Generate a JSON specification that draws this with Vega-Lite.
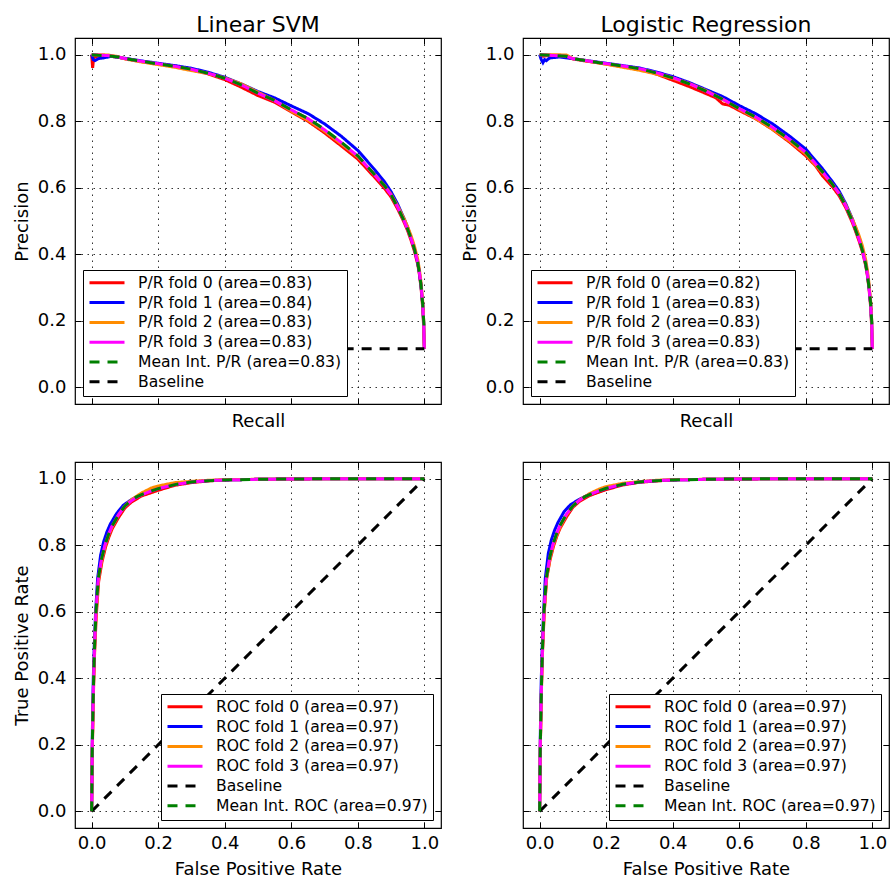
{
"$schema":"https://vega.github.io/schema/vega-lite/v6.json",
"background":"white",
"padding":{"left":12,"top":12,"right":0,"bottom":0},
"datasets":{
"prsvm":[
{"s":"f0","x":0,"y":1.0},{"s":"f0","x":0.003,"y":0.96},{"s":"f0","x":0.006,"y":0.99},{"s":"f0","x":0.02,"y":0.997},{"s":"f0","x":0.05,"y":0.996},{"s":"f0","x":0.08,"y":0.992},{"s":"f0","x":0.1,"y":0.988},{"s":"f0","x":0.15,"y":0.979},{"s":"f0","x":0.2,"y":0.972},{"s":"f0","x":0.25,"y":0.966},{"s":"f0","x":0.3,"y":0.955},{"s":"f0","x":0.35,"y":0.942},{"s":"f0","x":0.4,"y":0.925},{"s":"f0","x":0.45,"y":0.902},{"s":"f0","x":0.5,"y":0.877},{"s":"f0","x":0.55,"y":0.857},{"s":"f0","x":0.6,"y":0.828},{"s":"f0","x":0.65,"y":0.8},{"s":"f0","x":0.7,"y":0.765},{"s":"f0","x":0.75,"y":0.726},{"s":"f0","x":0.8,"y":0.686},{"s":"f0","x":0.85,"y":0.632},{"s":"f0","x":0.88,"y":0.598},{"s":"f0","x":0.9,"y":0.572},{"s":"f0","x":0.92,"y":0.536},{"s":"f0","x":0.94,"y":0.494},{"s":"f0","x":0.95,"y":0.47},{"s":"f0","x":0.96,"y":0.442},{"s":"f0","x":0.97,"y":0.41},{"s":"f0","x":0.98,"y":0.37},{"s":"f0","x":0.985,"y":0.34},{"s":"f0","x":0.99,"y":0.3},{"s":"f0","x":0.995,"y":0.24},{"s":"f0","x":0.998,"y":0.18},{"s":"f0","x":0.999,"y":0.14},{"s":"f0","x":1.0,"y":0.116},
{"s":"f1","x":0,"y":1.0},{"s":"f1","x":0.005,"y":0.985},{"s":"f1","x":0.01,"y":0.982},{"s":"f1","x":0.02,"y":0.988},{"s":"f1","x":0.04,"y":0.991},{"s":"f1","x":0.06,"y":0.995},{"s":"f1","x":0.1,"y":0.989},{"s":"f1","x":0.15,"y":0.981},{"s":"f1","x":0.2,"y":0.974},{"s":"f1","x":0.25,"y":0.967},{"s":"f1","x":0.3,"y":0.959},{"s":"f1","x":0.35,"y":0.947},{"s":"f1","x":0.4,"y":0.932},{"s":"f1","x":0.45,"y":0.912},{"s":"f1","x":0.5,"y":0.889},{"s":"f1","x":0.55,"y":0.87},{"s":"f1","x":0.6,"y":0.846},{"s":"f1","x":0.65,"y":0.823},{"s":"f1","x":0.7,"y":0.792},{"s":"f1","x":0.75,"y":0.755},{"s":"f1","x":0.8,"y":0.712},{"s":"f1","x":0.85,"y":0.655},{"s":"f1","x":0.88,"y":0.618},{"s":"f1","x":0.9,"y":0.588},{"s":"f1","x":0.92,"y":0.55},{"s":"f1","x":0.94,"y":0.505},{"s":"f1","x":0.95,"y":0.48},{"s":"f1","x":0.96,"y":0.45},{"s":"f1","x":0.97,"y":0.418},{"s":"f1","x":0.98,"y":0.375},{"s":"f1","x":0.985,"y":0.345},{"s":"f1","x":0.99,"y":0.305},{"s":"f1","x":0.995,"y":0.25},{"s":"f1","x":0.998,"y":0.19},{"s":"f1","x":0.999,"y":0.15},{"s":"f1","x":1.0,"y":0.116},
{"s":"f2","x":0,"y":1.0},{"s":"f2","x":0.02,"y":1.0},{"s":"f2","x":0.05,"y":0.999},{"s":"f2","x":0.08,"y":0.994},{"s":"f2","x":0.1,"y":0.987},{"s":"f2","x":0.15,"y":0.978},{"s":"f2","x":0.2,"y":0.97},{"s":"f2","x":0.25,"y":0.962},{"s":"f2","x":0.3,"y":0.952},{"s":"f2","x":0.35,"y":0.943},{"s":"f2","x":0.4,"y":0.93},{"s":"f2","x":0.45,"y":0.912},{"s":"f2","x":0.5,"y":0.887},{"s":"f2","x":0.55,"y":0.862},{"s":"f2","x":0.6,"y":0.83},{"s":"f2","x":0.65,"y":0.803},{"s":"f2","x":0.7,"y":0.77},{"s":"f2","x":0.75,"y":0.732},{"s":"f2","x":0.8,"y":0.693},{"s":"f2","x":0.85,"y":0.64},{"s":"f2","x":0.88,"y":0.607},{"s":"f2","x":0.9,"y":0.58},{"s":"f2","x":0.92,"y":0.545},{"s":"f2","x":0.94,"y":0.505},{"s":"f2","x":0.95,"y":0.482},{"s":"f2","x":0.96,"y":0.456},{"s":"f2","x":0.97,"y":0.425},{"s":"f2","x":0.98,"y":0.385},{"s":"f2","x":0.985,"y":0.355},{"s":"f2","x":0.99,"y":0.315},{"s":"f2","x":0.995,"y":0.26},{"s":"f2","x":0.998,"y":0.2},{"s":"f2","x":0.999,"y":0.15},{"s":"f2","x":1.0,"y":0.116},
{"s":"f3","x":0,"y":1.0},{"s":"f3","x":0.02,"y":0.999},{"s":"f3","x":0.05,"y":0.997},{"s":"f3","x":0.08,"y":0.993},{"s":"f3","x":0.1,"y":0.988},{"s":"f3","x":0.15,"y":0.98},{"s":"f3","x":0.2,"y":0.973},{"s":"f3","x":0.25,"y":0.965},{"s":"f3","x":0.3,"y":0.956},{"s":"f3","x":0.35,"y":0.944},{"s":"f3","x":0.4,"y":0.929},{"s":"f3","x":0.45,"y":0.909},{"s":"f3","x":0.5,"y":0.884},{"s":"f3","x":0.55,"y":0.861},{"s":"f3","x":0.6,"y":0.834},{"s":"f3","x":0.65,"y":0.808},{"s":"f3","x":0.7,"y":0.774},{"s":"f3","x":0.75,"y":0.736},{"s":"f3","x":0.8,"y":0.695},{"s":"f3","x":0.85,"y":0.639},{"s":"f3","x":0.88,"y":0.605},{"s":"f3","x":0.9,"y":0.578},{"s":"f3","x":0.92,"y":0.541},{"s":"f3","x":0.94,"y":0.498},{"s":"f3","x":0.95,"y":0.474},{"s":"f3","x":0.96,"y":0.447},{"s":"f3","x":0.97,"y":0.416},{"s":"f3","x":0.98,"y":0.376},{"s":"f3","x":0.985,"y":0.346},{"s":"f3","x":0.99,"y":0.308},{"s":"f3","x":0.995,"y":0.252},{"s":"f3","x":0.998,"y":0.195},{"s":"f3","x":0.999,"y":0.15},{"s":"f3","x":1.0,"y":0.116},
{"s":"b","x":0,"y":0.116},{"s":"b","x":1.0,"y":0.116},
{"s":"m","x":0,"y":1.0},{"s":"m","x":0.02,"y":0.998},{"s":"m","x":0.05,"y":0.996},{"s":"m","x":0.08,"y":0.993},{"s":"m","x":0.1,"y":0.988},{"s":"m","x":0.15,"y":0.98},{"s":"m","x":0.2,"y":0.972},{"s":"m","x":0.25,"y":0.965},{"s":"m","x":0.3,"y":0.956},{"s":"m","x":0.35,"y":0.944},{"s":"m","x":0.4,"y":0.929},{"s":"m","x":0.45,"y":0.909},{"s":"m","x":0.5,"y":0.884},{"s":"m","x":0.55,"y":0.862},{"s":"m","x":0.6,"y":0.834},{"s":"m","x":0.65,"y":0.808},{"s":"m","x":0.7,"y":0.775},{"s":"m","x":0.75,"y":0.737},{"s":"m","x":0.8,"y":0.696},{"s":"m","x":0.85,"y":0.64},{"s":"m","x":0.88,"y":0.606},{"s":"m","x":0.9,"y":0.579},{"s":"m","x":0.92,"y":0.54},{"s":"m","x":0.94,"y":0.499},{"s":"m","x":0.95,"y":0.475},{"s":"m","x":0.96,"y":0.448},{"s":"m","x":0.97,"y":0.416},{"s":"m","x":0.98,"y":0.376},{"s":"m","x":0.985,"y":0.345},{"s":"m","x":0.99,"y":0.307},{"s":"m","x":0.995,"y":0.25},{"s":"m","x":0.998,"y":0.2},{"s":"m","x":1.0,"y":0.17}
],
"prlr":[
{"s":"f0","x":0,"y":1.0},{"s":"f0","x":0.01,"y":0.995},{"s":"f0","x":0.03,"y":0.998},{"s":"f0","x":0.08,"y":0.994},{"s":"f0","x":0.1,"y":0.987},{"s":"f0","x":0.15,"y":0.979},{"s":"f0","x":0.2,"y":0.972},{"s":"f0","x":0.25,"y":0.964},{"s":"f0","x":0.3,"y":0.956},{"s":"f0","x":0.35,"y":0.942},{"s":"f0","x":0.4,"y":0.923},{"s":"f0","x":0.45,"y":0.904},{"s":"f0","x":0.5,"y":0.883},{"s":"f0","x":0.53,"y":0.87},{"s":"f0","x":0.55,"y":0.852},{"s":"f0","x":0.57,"y":0.848},{"s":"f0","x":0.6,"y":0.832},{"s":"f0","x":0.65,"y":0.807},{"s":"f0","x":0.7,"y":0.775},{"s":"f0","x":0.75,"y":0.738},{"s":"f0","x":0.8,"y":0.696},{"s":"f0","x":0.83,"y":0.665},{"s":"f0","x":0.85,"y":0.636},{"s":"f0","x":0.88,"y":0.603},{"s":"f0","x":0.9,"y":0.576},{"s":"f0","x":0.92,"y":0.54},{"s":"f0","x":0.94,"y":0.495},{"s":"f0","x":0.95,"y":0.468},{"s":"f0","x":0.96,"y":0.44},{"s":"f0","x":0.97,"y":0.408},{"s":"f0","x":0.98,"y":0.366},{"s":"f0","x":0.985,"y":0.336},{"s":"f0","x":0.99,"y":0.296},{"s":"f0","x":0.995,"y":0.24},{"s":"f0","x":0.998,"y":0.18},{"s":"f0","x":0.999,"y":0.14},{"s":"f0","x":1.0,"y":0.116},
{"s":"f1","x":0,"y":1.0},{"s":"f1","x":0.005,"y":0.985},{"s":"f1","x":0.01,"y":0.976},{"s":"f1","x":0.015,"y":0.985},{"s":"f1","x":0.02,"y":0.982},{"s":"f1","x":0.03,"y":0.99},{"s":"f1","x":0.06,"y":0.993},{"s":"f1","x":0.1,"y":0.988},{"s":"f1","x":0.15,"y":0.981},{"s":"f1","x":0.2,"y":0.974},{"s":"f1","x":0.25,"y":0.967},{"s":"f1","x":0.3,"y":0.96},{"s":"f1","x":0.35,"y":0.948},{"s":"f1","x":0.4,"y":0.934},{"s":"f1","x":0.45,"y":0.916},{"s":"f1","x":0.5,"y":0.895},{"s":"f1","x":0.55,"y":0.874},{"s":"f1","x":0.6,"y":0.847},{"s":"f1","x":0.65,"y":0.822},{"s":"f1","x":0.7,"y":0.792},{"s":"f1","x":0.75,"y":0.756},{"s":"f1","x":0.8,"y":0.716},{"s":"f1","x":0.85,"y":0.657},{"s":"f1","x":0.88,"y":0.618},{"s":"f1","x":0.9,"y":0.59},{"s":"f1","x":0.92,"y":0.552},{"s":"f1","x":0.94,"y":0.506},{"s":"f1","x":0.95,"y":0.478},{"s":"f1","x":0.96,"y":0.45},{"s":"f1","x":0.97,"y":0.417},{"s":"f1","x":0.98,"y":0.374},{"s":"f1","x":0.985,"y":0.343},{"s":"f1","x":0.99,"y":0.303},{"s":"f1","x":0.995,"y":0.248},{"s":"f1","x":0.998,"y":0.19},{"s":"f1","x":0.999,"y":0.15},{"s":"f1","x":1.0,"y":0.116},
{"s":"f2","x":0,"y":1.0},{"s":"f2","x":0.03,"y":1.0},{"s":"f2","x":0.08,"y":0.999},{"s":"f2","x":0.1,"y":0.988},{"s":"f2","x":0.15,"y":0.98},{"s":"f2","x":0.2,"y":0.971},{"s":"f2","x":0.25,"y":0.962},{"s":"f2","x":0.3,"y":0.953},{"s":"f2","x":0.35,"y":0.942},{"s":"f2","x":0.4,"y":0.929},{"s":"f2","x":0.45,"y":0.913},{"s":"f2","x":0.5,"y":0.892},{"s":"f2","x":0.55,"y":0.866},{"s":"f2","x":0.6,"y":0.836},{"s":"f2","x":0.65,"y":0.808},{"s":"f2","x":0.7,"y":0.776},{"s":"f2","x":0.75,"y":0.741},{"s":"f2","x":0.8,"y":0.701},{"s":"f2","x":0.85,"y":0.645},{"s":"f2","x":0.88,"y":0.61},{"s":"f2","x":0.9,"y":0.583},{"s":"f2","x":0.92,"y":0.548},{"s":"f2","x":0.94,"y":0.505},{"s":"f2","x":0.95,"y":0.482},{"s":"f2","x":0.96,"y":0.456},{"s":"f2","x":0.97,"y":0.425},{"s":"f2","x":0.98,"y":0.383},{"s":"f2","x":0.985,"y":0.352},{"s":"f2","x":0.99,"y":0.312},{"s":"f2","x":0.995,"y":0.258},{"s":"f2","x":0.998,"y":0.2},{"s":"f2","x":0.999,"y":0.15},{"s":"f2","x":1.0,"y":0.116},
{"s":"f3","x":0,"y":1.0},{"s":"f3","x":0.03,"y":0.998},{"s":"f3","x":0.08,"y":0.995},{"s":"f3","x":0.1,"y":0.988},{"s":"f3","x":0.15,"y":0.98},{"s":"f3","x":0.2,"y":0.973},{"s":"f3","x":0.25,"y":0.966},{"s":"f3","x":0.3,"y":0.958},{"s":"f3","x":0.35,"y":0.946},{"s":"f3","x":0.4,"y":0.931},{"s":"f3","x":0.45,"y":0.913},{"s":"f3","x":0.5,"y":0.89},{"s":"f3","x":0.55,"y":0.866},{"s":"f3","x":0.6,"y":0.838},{"s":"f3","x":0.65,"y":0.812},{"s":"f3","x":0.7,"y":0.781},{"s":"f3","x":0.75,"y":0.746},{"s":"f3","x":0.8,"y":0.706},{"s":"f3","x":0.85,"y":0.648},{"s":"f3","x":0.88,"y":0.61},{"s":"f3","x":0.9,"y":0.582},{"s":"f3","x":0.92,"y":0.545},{"s":"f3","x":0.94,"y":0.5},{"s":"f3","x":0.95,"y":0.472},{"s":"f3","x":0.96,"y":0.445},{"s":"f3","x":0.97,"y":0.412},{"s":"f3","x":0.98,"y":0.37},{"s":"f3","x":0.985,"y":0.34},{"s":"f3","x":0.99,"y":0.3},{"s":"f3","x":0.995,"y":0.248},{"s":"f3","x":0.998,"y":0.195},{"s":"f3","x":0.999,"y":0.15},{"s":"f3","x":1.0,"y":0.116},
{"s":"b","x":0,"y":0.116},{"s":"b","x":1.0,"y":0.116},
{"s":"m","x":0,"y":1.0},{"s":"m","x":0.03,"y":0.998},{"s":"m","x":0.08,"y":0.995},{"s":"m","x":0.1,"y":0.988},{"s":"m","x":0.15,"y":0.98},{"s":"m","x":0.2,"y":0.973},{"s":"m","x":0.25,"y":0.966},{"s":"m","x":0.3,"y":0.958},{"s":"m","x":0.35,"y":0.945},{"s":"m","x":0.4,"y":0.93},{"s":"m","x":0.45,"y":0.912},{"s":"m","x":0.5,"y":0.89},{"s":"m","x":0.55,"y":0.866},{"s":"m","x":0.6,"y":0.838},{"s":"m","x":0.65,"y":0.812},{"s":"m","x":0.7,"y":0.781},{"s":"m","x":0.75,"y":0.746},{"s":"m","x":0.8,"y":0.706},{"s":"m","x":0.85,"y":0.648},{"s":"m","x":0.88,"y":0.61},{"s":"m","x":0.9,"y":0.582},{"s":"m","x":0.92,"y":0.545},{"s":"m","x":0.94,"y":0.5},{"s":"m","x":0.95,"y":0.472},{"s":"m","x":0.96,"y":0.445},{"s":"m","x":0.97,"y":0.412},{"s":"m","x":0.98,"y":0.37},{"s":"m","x":0.985,"y":0.34},{"s":"m","x":0.99,"y":0.3},{"s":"m","x":0.995,"y":0.25},{"s":"m","x":0.998,"y":0.2},{"s":"m","x":1.0,"y":0.17}
],
"rocsvm":[
{"s":"f0","x":0,"y":0},{"s":"f0","x":0.001,"y":0.08},{"s":"f0","x":0.002,"y":0.18},{"s":"f0","x":0.004,"y":0.28},{"s":"f0","x":0.006,"y":0.38},{"s":"f0","x":0.009,"y":0.48},{"s":"f0","x":0.014,"y":0.59},{"s":"f0","x":0.021,"y":0.69},{"s":"f0","x":0.031,"y":0.75},{"s":"f0","x":0.042,"y":0.795},{"s":"f0","x":0.052,"y":0.825},{"s":"f0","x":0.062,"y":0.85},{"s":"f0","x":0.082,"y":0.885},{"s":"f0","x":0.1,"y":0.912},{"s":"f0","x":0.12,"y":0.93},{"s":"f0","x":0.15,"y":0.948},{"s":"f0","x":0.18,"y":0.958},{"s":"f0","x":0.2,"y":0.965},{"s":"f0","x":0.25,"y":0.98},{"s":"f0","x":0.3,"y":0.988},{"s":"f0","x":0.35,"y":0.993},{"s":"f0","x":0.4,"y":0.996},{"s":"f0","x":0.5,"y":0.998},{"s":"f0","x":0.6,"y":0.999},{"s":"f0","x":0.8,"y":1.0},{"s":"f0","x":1.0,"y":1.0},
{"s":"f1","x":0,"y":0},{"s":"f1","x":0.001,"y":0.12},{"s":"f1","x":0.002,"y":0.22},{"s":"f1","x":0.003,"y":0.3},{"s":"f1","x":0.005,"y":0.4},{"s":"f1","x":0.008,"y":0.5},{"s":"f1","x":0.012,"y":0.6},{"s":"f1","x":0.018,"y":0.7},{"s":"f1","x":0.027,"y":0.77},{"s":"f1","x":0.036,"y":0.81},{"s":"f1","x":0.046,"y":0.84},{"s":"f1","x":0.056,"y":0.863},{"s":"f1","x":0.075,"y":0.895},{"s":"f1","x":0.095,"y":0.92},{"s":"f1","x":0.12,"y":0.937},{"s":"f1","x":0.15,"y":0.953},{"s":"f1","x":0.18,"y":0.964},{"s":"f1","x":0.2,"y":0.97},{"s":"f1","x":0.25,"y":0.983},{"s":"f1","x":0.3,"y":0.99},{"s":"f1","x":0.35,"y":0.994},{"s":"f1","x":0.4,"y":0.996},{"s":"f1","x":0.5,"y":0.998},{"s":"f1","x":0.6,"y":0.999},{"s":"f1","x":0.8,"y":1.0},{"s":"f1","x":1.0,"y":1.0},
{"s":"f2","x":0,"y":0},{"s":"f2","x":0.001,"y":0.1},{"s":"f2","x":0.002,"y":0.19},{"s":"f2","x":0.004,"y":0.29},{"s":"f2","x":0.006,"y":0.39},{"s":"f2","x":0.009,"y":0.49},{"s":"f2","x":0.013,"y":0.59},{"s":"f2","x":0.021,"y":0.7},{"s":"f2","x":0.031,"y":0.76},{"s":"f2","x":0.041,"y":0.8},{"s":"f2","x":0.051,"y":0.83},{"s":"f2","x":0.062,"y":0.856},{"s":"f2","x":0.08,"y":0.89},{"s":"f2","x":0.1,"y":0.918},{"s":"f2","x":0.12,"y":0.937},{"s":"f2","x":0.15,"y":0.957},{"s":"f2","x":0.18,"y":0.972},{"s":"f2","x":0.2,"y":0.978},{"s":"f2","x":0.25,"y":0.988},{"s":"f2","x":0.3,"y":0.992},{"s":"f2","x":0.35,"y":0.995},{"s":"f2","x":0.4,"y":0.997},{"s":"f2","x":0.5,"y":0.998},{"s":"f2","x":0.6,"y":0.999},{"s":"f2","x":0.8,"y":1.0},{"s":"f2","x":1.0,"y":1.0},
{"s":"f3","x":0,"y":0},{"s":"f3","x":0.001,"y":0.1},{"s":"f3","x":0.002,"y":0.2},{"s":"f3","x":0.004,"y":0.3},{"s":"f3","x":0.006,"y":0.4},{"s":"f3","x":0.009,"y":0.5},{"s":"f3","x":0.013,"y":0.6},{"s":"f3","x":0.02,"y":0.7},{"s":"f3","x":0.03,"y":0.76},{"s":"f3","x":0.04,"y":0.8},{"s":"f3","x":0.05,"y":0.83},{"s":"f3","x":0.06,"y":0.855},{"s":"f3","x":0.08,"y":0.89},{"s":"f3","x":0.1,"y":0.917},{"s":"f3","x":0.12,"y":0.934},{"s":"f3","x":0.135,"y":0.944},{"s":"f3","x":0.15,"y":0.951},{"s":"f3","x":0.18,"y":0.963},{"s":"f3","x":0.2,"y":0.97},{"s":"f3","x":0.25,"y":0.982},{"s":"f3","x":0.3,"y":0.99},{"s":"f3","x":0.35,"y":0.994},{"s":"f3","x":0.4,"y":0.996},{"s":"f3","x":0.5,"y":0.998},{"s":"f3","x":0.6,"y":0.999},{"s":"f3","x":0.8,"y":1.0},{"s":"f3","x":1.0,"y":1.0},
{"s":"b","x":0,"y":0},{"s":"b","x":1.0,"y":1.0},
{"s":"m","x":0,"y":0},{"s":"m","x":0.001,"y":0.1},{"s":"m","x":0.002,"y":0.2},{"s":"m","x":0.004,"y":0.3},{"s":"m","x":0.006,"y":0.4},{"s":"m","x":0.009,"y":0.5},{"s":"m","x":0.013,"y":0.6},{"s":"m","x":0.02,"y":0.7},{"s":"m","x":0.03,"y":0.76},{"s":"m","x":0.04,"y":0.8},{"s":"m","x":0.05,"y":0.83},{"s":"m","x":0.06,"y":0.855},{"s":"m","x":0.08,"y":0.89},{"s":"m","x":0.1,"y":0.918},{"s":"m","x":0.12,"y":0.935},{"s":"m","x":0.135,"y":0.945},{"s":"m","x":0.15,"y":0.952},{"s":"m","x":0.18,"y":0.963},{"s":"m","x":0.2,"y":0.97},{"s":"m","x":0.25,"y":0.982},{"s":"m","x":0.3,"y":0.99},{"s":"m","x":0.35,"y":0.994},{"s":"m","x":0.4,"y":0.996},{"s":"m","x":0.5,"y":0.998},{"s":"m","x":0.6,"y":0.999},{"s":"m","x":0.8,"y":1.0},{"s":"m","x":1.0,"y":1.0}
],
"roclr":[
{"s":"f0","x":0,"y":0},{"s":"f0","x":0.001,"y":0.09},{"s":"f0","x":0.002,"y":0.19},{"s":"f0","x":0.004,"y":0.29},{"s":"f0","x":0.006,"y":0.39},{"s":"f0","x":0.009,"y":0.49},{"s":"f0","x":0.014,"y":0.6},{"s":"f0","x":0.021,"y":0.7},{"s":"f0","x":0.031,"y":0.755},{"s":"f0","x":0.042,"y":0.798},{"s":"f0","x":0.052,"y":0.828},{"s":"f0","x":0.062,"y":0.852},{"s":"f0","x":0.082,"y":0.887},{"s":"f0","x":0.1,"y":0.914},{"s":"f0","x":0.12,"y":0.932},{"s":"f0","x":0.15,"y":0.949},{"s":"f0","x":0.18,"y":0.96},{"s":"f0","x":0.2,"y":0.967},{"s":"f0","x":0.25,"y":0.981},{"s":"f0","x":0.3,"y":0.989},{"s":"f0","x":0.35,"y":0.993},{"s":"f0","x":0.4,"y":0.996},{"s":"f0","x":0.5,"y":0.998},{"s":"f0","x":0.6,"y":0.999},{"s":"f0","x":0.8,"y":1.0},{"s":"f0","x":1.0,"y":1.0},
{"s":"f1","x":0,"y":0},{"s":"f1","x":0.001,"y":0.12},{"s":"f1","x":0.002,"y":0.22},{"s":"f1","x":0.003,"y":0.3},{"s":"f1","x":0.005,"y":0.4},{"s":"f1","x":0.008,"y":0.5},{"s":"f1","x":0.012,"y":0.6},{"s":"f1","x":0.017,"y":0.7},{"s":"f1","x":0.026,"y":0.775},{"s":"f1","x":0.035,"y":0.815},{"s":"f1","x":0.045,"y":0.845},{"s":"f1","x":0.055,"y":0.868},{"s":"f1","x":0.073,"y":0.9},{"s":"f1","x":0.093,"y":0.922},{"s":"f1","x":0.12,"y":0.938},{"s":"f1","x":0.15,"y":0.953},{"s":"f1","x":0.18,"y":0.964},{"s":"f1","x":0.2,"y":0.97},{"s":"f1","x":0.25,"y":0.983},{"s":"f1","x":0.3,"y":0.99},{"s":"f1","x":0.35,"y":0.994},{"s":"f1","x":0.4,"y":0.996},{"s":"f1","x":0.5,"y":0.998},{"s":"f1","x":0.6,"y":0.999},{"s":"f1","x":0.8,"y":1.0},{"s":"f1","x":1.0,"y":1.0},
{"s":"f2","x":0,"y":0},{"s":"f2","x":0.001,"y":0.1},{"s":"f2","x":0.002,"y":0.19},{"s":"f2","x":0.004,"y":0.29},{"s":"f2","x":0.006,"y":0.39},{"s":"f2","x":0.009,"y":0.49},{"s":"f2","x":0.013,"y":0.59},{"s":"f2","x":0.021,"y":0.7},{"s":"f2","x":0.031,"y":0.76},{"s":"f2","x":0.041,"y":0.8},{"s":"f2","x":0.051,"y":0.83},{"s":"f2","x":0.062,"y":0.856},{"s":"f2","x":0.08,"y":0.89},{"s":"f2","x":0.1,"y":0.918},{"s":"f2","x":0.12,"y":0.936},{"s":"f2","x":0.15,"y":0.955},{"s":"f2","x":0.18,"y":0.969},{"s":"f2","x":0.2,"y":0.976},{"s":"f2","x":0.25,"y":0.986},{"s":"f2","x":0.3,"y":0.991},{"s":"f2","x":0.35,"y":0.995},{"s":"f2","x":0.4,"y":0.997},{"s":"f2","x":0.5,"y":0.998},{"s":"f2","x":0.6,"y":0.999},{"s":"f2","x":0.8,"y":1.0},{"s":"f2","x":1.0,"y":1.0},
{"s":"f3","x":0,"y":0},{"s":"f3","x":0.001,"y":0.1},{"s":"f3","x":0.002,"y":0.2},{"s":"f3","x":0.004,"y":0.3},{"s":"f3","x":0.006,"y":0.4},{"s":"f3","x":0.009,"y":0.5},{"s":"f3","x":0.013,"y":0.6},{"s":"f3","x":0.02,"y":0.7},{"s":"f3","x":0.03,"y":0.762},{"s":"f3","x":0.04,"y":0.802},{"s":"f3","x":0.05,"y":0.832},{"s":"f3","x":0.06,"y":0.857},{"s":"f3","x":0.08,"y":0.892},{"s":"f3","x":0.1,"y":0.918},{"s":"f3","x":0.12,"y":0.935},{"s":"f3","x":0.135,"y":0.945},{"s":"f3","x":0.15,"y":0.952},{"s":"f3","x":0.18,"y":0.964},{"s":"f3","x":0.2,"y":0.971},{"s":"f3","x":0.25,"y":0.983},{"s":"f3","x":0.3,"y":0.99},{"s":"f3","x":0.35,"y":0.994},{"s":"f3","x":0.4,"y":0.996},{"s":"f3","x":0.5,"y":0.998},{"s":"f3","x":0.6,"y":0.999},{"s":"f3","x":0.8,"y":1.0},{"s":"f3","x":1.0,"y":1.0},
{"s":"b","x":0,"y":0},{"s":"b","x":1.0,"y":1.0},
{"s":"m","x":0,"y":0},{"s":"m","x":0.001,"y":0.1},{"s":"m","x":0.002,"y":0.2},{"s":"m","x":0.004,"y":0.3},{"s":"m","x":0.006,"y":0.4},{"s":"m","x":0.009,"y":0.5},{"s":"m","x":0.013,"y":0.6},{"s":"m","x":0.02,"y":0.7},{"s":"m","x":0.03,"y":0.762},{"s":"m","x":0.04,"y":0.802},{"s":"m","x":0.05,"y":0.832},{"s":"m","x":0.06,"y":0.857},{"s":"m","x":0.08,"y":0.892},{"s":"m","x":0.1,"y":0.918},{"s":"m","x":0.12,"y":0.935},{"s":"m","x":0.135,"y":0.945},{"s":"m","x":0.15,"y":0.952},{"s":"m","x":0.18,"y":0.964},{"s":"m","x":0.2,"y":0.971},{"s":"m","x":0.25,"y":0.983},{"s":"m","x":0.3,"y":0.99},{"s":"m","x":0.35,"y":0.994},{"s":"m","x":0.4,"y":0.996},{"s":"m","x":0.5,"y":0.998},{"s":"m","x":0.6,"y":0.999},{"s":"m","x":0.8,"y":1.0},{"s":"m","x":1.0,"y":1.0}
]
},
"columns":2,
"spacing":{"row":58,"column":82},
"bounds":"flush",
"concat":[
{
"width":366,"height":366,
"title":"Linear SVM",
"data":{"name":"prsvm"},
"layer":[
{"mark":{"type":"line","strokeWidth":3,"strokeCap":"butt"},
"encoding":{
"x":{"field":"x","type":"quantitative","scale":{"domain":[-0.05,1.05],"nice":false,"zero":false},"axis":{"orient":"bottom","labels":false,"title":"Recall","values":[0,0.2,0.4,0.6,0.8,1]}},
"y":{"field":"y","type":"quantitative","scale":{"domain":[-0.05,1.05],"nice":false,"zero":false},"axis":{"orient":"left","title":"Precision","values":[0,0.2,0.4,0.6,0.8,1]}},
"color":{"field":"s","type":"nominal","scale":{"domain":["f0","f1","f2","f3","m","b"],"range":["#ff0000","#0000ff","#ff8c00","#ff00ff","#008000","#000000"]},"legend":{"orient":"bottom-left","title":null,"labelExpr":"datum.value=='f0'?'P/R fold 0 (area=0.83)':datum.value=='f1'?'P/R fold 1 (area=0.84)':datum.value=='f2'?'P/R fold 2 (area=0.83)':datum.value=='f3'?'P/R fold 3 (area=0.83)':datum.value=='m'?'Mean Int. P/R (area=0.83)':'Baseline'"}},
"strokeDash":{"field":"s","type":"nominal","scale":{"domain":["f0","f1","f2","f3","m","b"],"range":[[1,0],[1,0],[1,0],[1,0],[10,8],[10,8]]},"legend":{"orient":"bottom-left","title":null,"labelExpr":"datum.value=='f0'?'P/R fold 0 (area=0.83)':datum.value=='f1'?'P/R fold 1 (area=0.84)':datum.value=='f2'?'P/R fold 2 (area=0.83)':datum.value=='f3'?'P/R fold 3 (area=0.83)':datum.value=='m'?'Mean Int. P/R (area=0.83)':'Baseline'"}}
}},
{"mark":{"type":"line","opacity":0},
"encoding":{
"x":{"field":"x","type":"quantitative","scale":{"domain":[-0.05,1.05],"nice":false,"zero":false},"axis":{"orient":"top","labels":false,"title":null,"grid":false,"values":[0,0.2,0.4,0.6,0.8,1]}},
"y":{"field":"y","type":"quantitative","scale":{"domain":[-0.05,1.05],"nice":false,"zero":false},"axis":{"orient":"right","labels":false,"title":null,"grid":false,"values":[0,0.2,0.4,0.6,0.8,1]}}
}}
],
"resolve":{"axis":{"x":"independent","y":"independent"}}
},
{
"width":366,"height":366,
"title":"Logistic Regression",
"data":{"name":"prlr"},
"layer":[
{"mark":{"type":"line","strokeWidth":3,"strokeCap":"butt"},
"encoding":{
"x":{"field":"x","type":"quantitative","scale":{"domain":[-0.05,1.05],"nice":false,"zero":false},"axis":{"orient":"bottom","labels":false,"title":"Recall","values":[0,0.2,0.4,0.6,0.8,1]}},
"y":{"field":"y","type":"quantitative","scale":{"domain":[-0.05,1.05],"nice":false,"zero":false},"axis":{"orient":"left","title":"Precision","values":[0,0.2,0.4,0.6,0.8,1]}},
"color":{"field":"s","type":"nominal","scale":{"domain":["f0","f1","f2","f3","m","b"],"range":["#ff0000","#0000ff","#ff8c00","#ff00ff","#008000","#000000"]},"legend":{"orient":"bottom-left","title":null,"labelExpr":"datum.value=='f0'?'P/R fold 0 (area=0.82)':datum.value=='f1'?'P/R fold 1 (area=0.83)':datum.value=='f2'?'P/R fold 2 (area=0.83)':datum.value=='f3'?'P/R fold 3 (area=0.83)':datum.value=='m'?'Mean Int. P/R (area=0.83)':'Baseline'"}},
"strokeDash":{"field":"s","type":"nominal","scale":{"domain":["f0","f1","f2","f3","m","b"],"range":[[1,0],[1,0],[1,0],[1,0],[10,8],[10,8]]},"legend":{"orient":"bottom-left","title":null,"labelExpr":"datum.value=='f0'?'P/R fold 0 (area=0.82)':datum.value=='f1'?'P/R fold 1 (area=0.83)':datum.value=='f2'?'P/R fold 2 (area=0.83)':datum.value=='f3'?'P/R fold 3 (area=0.83)':datum.value=='m'?'Mean Int. P/R (area=0.83)':'Baseline'"}}
}},
{"mark":{"type":"line","opacity":0},
"encoding":{
"x":{"field":"x","type":"quantitative","scale":{"domain":[-0.05,1.05],"nice":false,"zero":false},"axis":{"orient":"top","labels":false,"title":null,"grid":false,"values":[0,0.2,0.4,0.6,0.8,1]}},
"y":{"field":"y","type":"quantitative","scale":{"domain":[-0.05,1.05],"nice":false,"zero":false},"axis":{"orient":"right","labels":false,"title":null,"grid":false,"values":[0,0.2,0.4,0.6,0.8,1]}}
}}
],
"resolve":{"axis":{"x":"independent","y":"independent"}}
},
{
"width":366,"height":366,
"data":{"name":"rocsvm"},
"layer":[
{"mark":{"type":"line","strokeWidth":3,"strokeCap":"butt"},
"encoding":{
"x":{"field":"x","type":"quantitative","scale":{"domain":[-0.05,1.05],"nice":false,"zero":false},"axis":{"orient":"bottom","title":"False Positive Rate","values":[0,0.2,0.4,0.6,0.8,1]}},
"y":{"field":"y","type":"quantitative","scale":{"domain":[-0.05,1.05],"nice":false,"zero":false},"axis":{"orient":"left","title":"True Positive Rate","values":[0,0.2,0.4,0.6,0.8,1]}},
"color":{"field":"s","type":"nominal","scale":{"domain":["f0","f1","f2","f3","b","m"],"range":["#ff0000","#0000ff","#ff8c00","#ff00ff","#000000","#008000"]},"legend":{"orient":"bottom-right","title":null,"labelExpr":"datum.value=='f0'?'ROC fold 0 (area=0.97)':datum.value=='f1'?'ROC fold 1 (area=0.97)':datum.value=='f2'?'ROC fold 2 (area=0.97)':datum.value=='f3'?'ROC fold 3 (area=0.97)':datum.value=='m'?'Mean Int. ROC (area=0.97)':'Baseline'"}},
"strokeDash":{"field":"s","type":"nominal","scale":{"domain":["f0","f1","f2","f3","b","m"],"range":[[1,0],[1,0],[1,0],[1,0],[10,8],[10,8]]},"legend":{"orient":"bottom-right","title":null,"labelExpr":"datum.value=='f0'?'ROC fold 0 (area=0.97)':datum.value=='f1'?'ROC fold 1 (area=0.97)':datum.value=='f2'?'ROC fold 2 (area=0.97)':datum.value=='f3'?'ROC fold 3 (area=0.97)':datum.value=='m'?'Mean Int. ROC (area=0.97)':'Baseline'"}}
}},
{"mark":{"type":"line","opacity":0},
"encoding":{
"x":{"field":"x","type":"quantitative","scale":{"domain":[-0.05,1.05],"nice":false,"zero":false},"axis":{"orient":"top","labels":false,"title":null,"grid":false,"values":[0,0.2,0.4,0.6,0.8,1]}},
"y":{"field":"y","type":"quantitative","scale":{"domain":[-0.05,1.05],"nice":false,"zero":false},"axis":{"orient":"right","labels":false,"title":null,"grid":false,"values":[0,0.2,0.4,0.6,0.8,1]}}
}}
],
"resolve":{"axis":{"x":"independent","y":"independent"}}
},
{
"width":366,"height":366,
"data":{"name":"roclr"},
"layer":[
{"mark":{"type":"line","strokeWidth":3,"strokeCap":"butt"},
"encoding":{
"x":{"field":"x","type":"quantitative","scale":{"domain":[-0.05,1.05],"nice":false,"zero":false},"axis":{"orient":"bottom","title":"False Positive Rate","values":[0,0.2,0.4,0.6,0.8,1]}},
"y":{"field":"y","type":"quantitative","scale":{"domain":[-0.05,1.05],"nice":false,"zero":false},"axis":{"orient":"left","labels":false,"title":null,"values":[0,0.2,0.4,0.6,0.8,1]}},
"color":{"field":"s","type":"nominal","scale":{"domain":["f0","f1","f2","f3","b","m"],"range":["#ff0000","#0000ff","#ff8c00","#ff00ff","#000000","#008000"]},"legend":{"orient":"bottom-right","title":null,"labelExpr":"datum.value=='f0'?'ROC fold 0 (area=0.97)':datum.value=='f1'?'ROC fold 1 (area=0.97)':datum.value=='f2'?'ROC fold 2 (area=0.97)':datum.value=='f3'?'ROC fold 3 (area=0.97)':datum.value=='m'?'Mean Int. ROC (area=0.97)':'Baseline'"}},
"strokeDash":{"field":"s","type":"nominal","scale":{"domain":["f0","f1","f2","f3","b","m"],"range":[[1,0],[1,0],[1,0],[1,0],[10,8],[10,8]]},"legend":{"orient":"bottom-right","title":null,"labelExpr":"datum.value=='f0'?'ROC fold 0 (area=0.97)':datum.value=='f1'?'ROC fold 1 (area=0.97)':datum.value=='f2'?'ROC fold 2 (area=0.97)':datum.value=='f3'?'ROC fold 3 (area=0.97)':datum.value=='m'?'Mean Int. ROC (area=0.97)':'Baseline'"}}
}},
{"mark":{"type":"line","opacity":0},
"encoding":{
"x":{"field":"x","type":"quantitative","scale":{"domain":[-0.05,1.05],"nice":false,"zero":false},"axis":{"orient":"top","labels":false,"title":null,"grid":false,"values":[0,0.2,0.4,0.6,0.8,1]}},
"y":{"field":"y","type":"quantitative","scale":{"domain":[-0.05,1.05],"nice":false,"zero":false},"axis":{"orient":"right","labels":false,"title":null,"grid":false,"values":[0,0.2,0.4,0.6,0.8,1]}}
}}
],
"resolve":{"axis":{"x":"independent","y":"independent"}}
}
],
"resolve":{"scale":{"color":"independent","strokeDash":"independent"},"legend":{"color":"independent","strokeDash":"independent"}},
"config":{
"font":"DejaVu Sans",
"view":{"stroke":"black","strokeWidth":1.2},
"axis":{"domain":false,"grid":true,"gridColor":"black","gridDash":[1.5,4.5],"gridWidth":0.8,"gridOpacity":1,"ticks":true,"tickColor":"black","tickSize":-6,"tickWidth":1,"labelFont":"DejaVu Sans","labelFontSize":18,"labelColor":"black","labelPadding":12,"labelFlush":false,"labelOverlap":false,"format":".1f","titleFont":"DejaVu Sans","titleFontSize":18,"titleFontWeight":"normal","titleColor":"black","titlePadding":8},
"axisY":{"labelPadding":15,"titlePadding":6},
"legend":{"labelFont":"DejaVu Sans","labelFontSize":15.6,"labelColor":"black","labelLimit":500,"labelOffset":12,"symbolType":"stroke","symbolSize":1225,"symbolStrokeWidth":3,"clipHeight":15.6,"padding":5,"rowPadding":2.8,"offset":8,"strokeColor":"black","fillColor":"white","cornerRadius":0},
"title":{"font":"DejaVu Sans","fontSize":22,"fontWeight":"normal","color":"black","offset":1}
}
}
